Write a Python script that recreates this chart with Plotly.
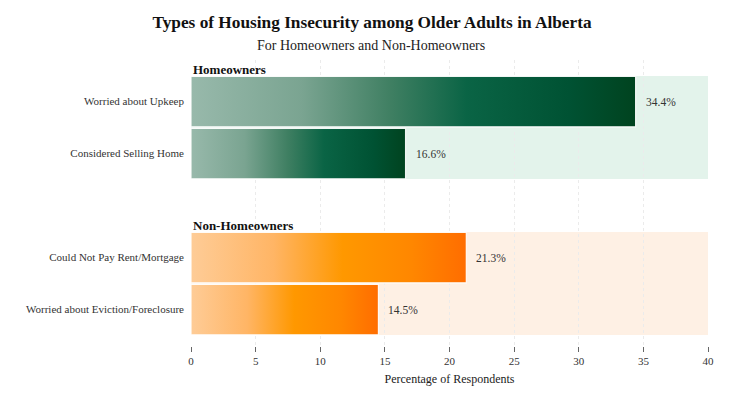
import plotly.graph_objects as go

# ---- data ----
groups = ["Homeowners", "Non-Homeowners"]
categories = [
    "Worried about Upkeep",
    "Considered Selling Home",
    "Could Not Pay Rent/Mortgage",
    "Worried about Eviction/Foreclosure",
]
values = [34.4, 16.6, 21.3, 14.5]
category_group = [0, 0, 1, 1]
x_ticks = [0, 5, 10, 15, 20, 25, 30, 35, 40]
x_max = 40

# ---- styles ----
SERIF = "Liberation Serif, Times New Roman, serif"
W, H = 742, 388                   # page has an 8px body margin
positions = [0, 1, 3, 4]          # vertical slot of each category
half_h = 0.485                    # half bar thickness (slot units)
bg_half = 0.49
gradients = [
    [[0, "#98b9ab"], [0.25, "#7aa491"], [0.45, "#3f7f62"], [0.62, "#0a6445"],
     [0.85, "#005233"], [1, "#00431f"]],
    [[0, "#fecc97"], [0.3, "#ffb565"], [0.55, "#ff9800"], [0.8, "#ff8700"],
     [1, "#ff6d00"]],
]
bg_colors = ["#e3f3eb", "#fef0e4"]

fig = go.Figure()

# background panels per group
shapes = []
for g in range(len(groups)):
    ps = [p for p, cg in zip(positions, category_group) if cg == g]
    shapes.append(dict(
        type="rect", xref="x", yref="y", layer="below",
        x0=0, x1=x_max, y0=min(ps) - bg_half, y1=max(ps) + bg_half,
        fillcolor=bg_colors[g], line=dict(width=0),
    ))

# gradient bars
for cat, v, p, g in zip(categories, values, positions, category_group):
    fig.add_trace(go.Scatter(
        x=[0, v, v, 0, 0],
        y=[p - half_h, p - half_h, p + half_h, p + half_h, p - half_h],
        mode="lines", fill="toself",
        fillgradient=dict(type="horizontal", colorscale=gradients[g]),
        line=dict(color="rgba(255,255,255,0.9)", width=1.2),
        name=cat, hoverinfo="text", text=f"{cat}: {v}%",
        showlegend=False,
    ))

annotations = []
# value labels
for v, p in zip(values, positions):
    annotations.append(dict(
        x=v, y=p, xref="x", yref="y", text=f"{v}%", showarrow=False,
        xanchor="left", yanchor="middle", xshift=8,
        font=dict(family=SERIF, size=11.5, color="#333333"),
    ))
# group headers
for g, name in enumerate(groups):
    ps = [p for p, cg in zip(positions, category_group) if cg == g]
    annotations.append(dict(
        x=0, y=min(ps) - 0.61, xref="x", yref="y", text=f"<b>{name}</b>",
        showarrow=False, xanchor="left", yanchor="middle",
        font=dict(family=SERIF, size=13, color="#111111"),
    ))

margin = dict(l=183, r=42, t=52, b=45)
plot_h = H - margin["t"] - margin["b"]
plot_w = W - margin["l"] - margin["r"]
# subtitle (centred on the page, not the plot)
annotations.append(dict(
    x=(363 - margin["l"]) / plot_w, y=(H - margin["b"] - 37) / plot_h,
    xref="paper", yref="paper",
    text="For Homeowners and Non-Homeowners",
    showarrow=False, xanchor="center", yanchor="middle",
    font=dict(family=SERIF, size=14, color="#222222"),
))

fig.update_layout(
    width=W, height=H,
    margin=margin,
    paper_bgcolor="white", plot_bgcolor="white",
    title=dict(
        text="<b>Types of Housing Insecurity among Older Adults in Alberta</b>",
        x=364 / W, xref="container", xanchor="center",
        y=1 - 14 / H, yref="container", yanchor="middle",
        font=dict(family=SERIF, size=17.3, color="#111111"),
    ),
    shapes=shapes,
    annotations=annotations,
    xaxis=dict(
        range=[0, x_max], tickvals=x_ticks, ticktext=[str(t) for t in x_ticks],
        showgrid=True, gridcolor="#ebebeb", griddash="dot", gridwidth=1,
        zeroline=False, showline=False,
        ticks="outside", ticklen=5, tickcolor="#666666", tickwidth=1,
        tickfont=dict(family=SERIF, size=11, color="#333333"),
        title=dict(text="Percentage of Respondents", standoff=8,
                   font=dict(family=SERIF, size=12, color="#222222")),
        fixedrange=True,
    ),
    yaxis=dict(
        range=[4.7, -0.8], tickvals=positions, ticktext=categories,
        showgrid=False, zeroline=False, showline=False, ticks="",
        ticklabelstandoff=6,
        tickfont=dict(family=SERIF, size=11, color="#333333"),
        fixedrange=True,
    ),
)

fig.write_html("out.html")
